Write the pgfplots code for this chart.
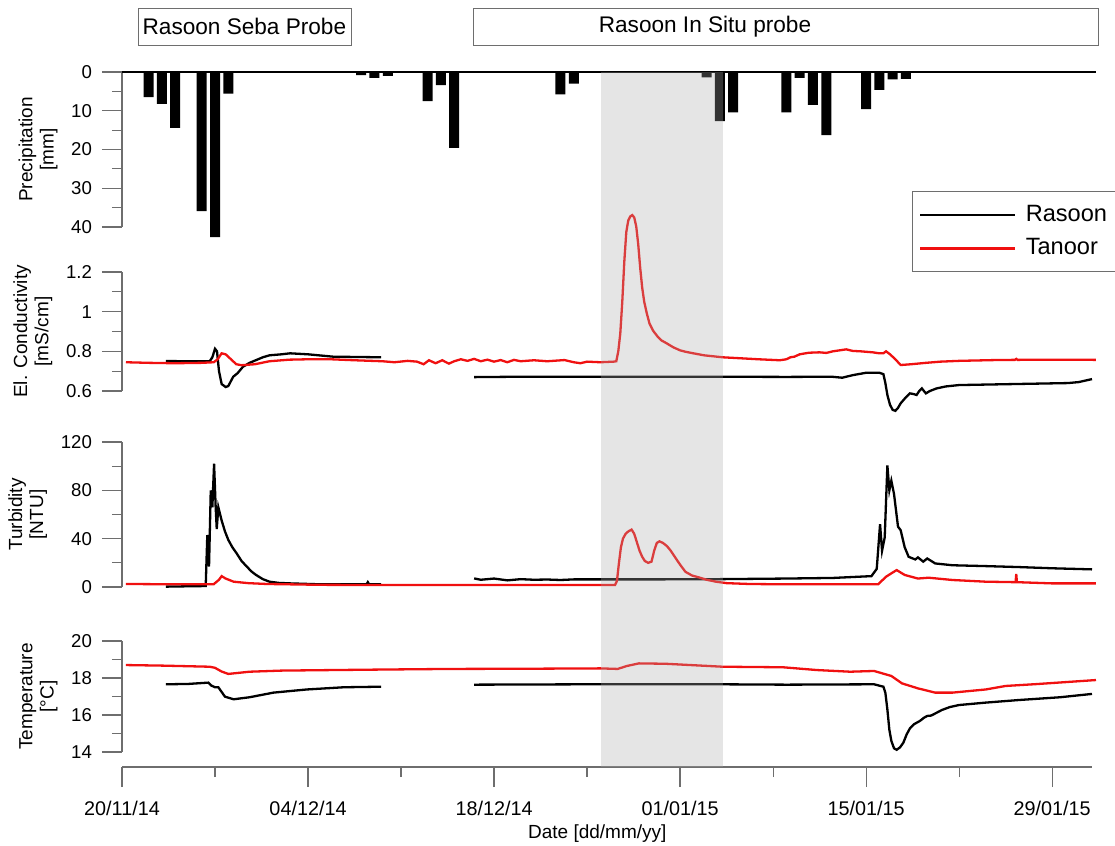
\documentclass[border=0pt]{standalone}
\usepackage{pgfplots}
\pgfplotsset{compat=1.18}
\usepackage{fontspec}
\setmainfont{Liberation Sans}
\definecolor{axgray}{HTML}{6E6E6E}
\definecolor{shadec}{HTML}{AAAAAA}
\definecolor{tanoor}{HTML}{F01010}

\pgfplotsset{
  panel/.style={
    scale only axis, width=485pt, xmin=0, xmax=73, clip=false,
    axis x line=none, axis y line*=left,
    tick align=outside,
    major tick length=10pt, minor tick length=5pt,
    every tick/.style={axgray, line width=0.6pt},
    axis line style={axgray, line width=0.6pt},
    /pgf/number format/assume math mode=true,
    tick label style={font=\fontsize{9.3}{11}\selectfont},
    yticklabel shift=1.5pt,
    ylabel style={font=\fontsize{9.5}{10.6}\selectfont, align=center},
    minor y tick num=1,
  },
  rl/.style={black, line width=1.15pt},
  tl/.style={tanoor, line width=1.15pt},
}

\begin{document}
\begin{tikzpicture}
\path[use as bounding box] (0pt,0pt) rectangle (557.5pt,-423pt);

% top labels
\node[draw=axgray, line width=0.5pt, minimum width=106.5pt, minimum height=18.5pt, inner sep=0pt, anchor=north west] at (69pt,-4pt) {};
\node[font=\fontsize{11.3}{13}\selectfont] at (122.2pt,-13.2pt) {Rasoon Seba Probe};
\node[draw=axgray, line width=0.5pt, minimum width=312.5pt, minimum height=18.5pt, inner sep=0pt, anchor=north west] at (236.5pt,-4pt) {};
\node[font=\fontsize{11.3}{13}\selectfont] at (352.5pt,-13.2pt) {Rasoon In Situ probe};

% Precipitation
\begin{axis}[panel, at={(61pt,-36pt)}, anchor=north west, height=77.5pt,
  y dir=reverse, ymin=0, ymax=40, ytick={0,10,20,30,40},
  ylabel={Precipitation\\{[mm]}}]
\addplot[black, line width=1.1pt] coordinates {(0,0) (73.3,0)};
\addplot[ybar, bar width=5pt, fill=black, draw=none] coordinates {
(2,6.5) (3,8.2) (4,14.4) (6,35.9) (7,42.6) (8,5.6) (18,0.8) (19,1.5) (20,1.0)
(23,7.5) (24,3.4) (25,19.6) (33,5.8) (34,3.0) (44,1.4) (45,12.7) (46,10.4)
(50,10.4) (51,1.5) (52,8.5) (53,16.3) (56,9.6) (57,4.6) (58,1.9) (59,1.8)};
\end{axis}

% EC
\begin{axis}[panel, at={(61pt,-195.5pt)}, anchor=south west, height=59.5pt,
  ymin=0.6, ymax=1.2, ytick={0.6,0.8,1,1.2},
  ylabel={El. Conductivity\\{[mS/cm]}},
  legend style={at={(0.8144,1.6807)}, anchor=north west, draw=axgray, line width=0.5pt,
    font=\fontsize{11.8}{13}\selectfont, inner xsep=3.3pt, inner ysep=5.5pt,
    nodes={inner sep=1.5pt}, row sep=4pt, column sep=3.2pt},
  legend cell align=left,
  legend image code/.code={\draw[#1] (0pt,0pt) -- (47.5pt,0pt);}]
\addplot[rl] coordinates {(3.3,0.751)(5,0.750)(6.6,0.750)(6.8,0.77)(7.0,0.813)(7.15,0.80)(7.3,0.70)(7.5,0.635)(7.8,0.62)(8.0,0.625)(8.37,0.672)(8.7,0.69)(9.1,0.722)(9.6,0.742)(10.1,0.756)(10.6,0.77)(11.1,0.78)(12.0,0.785)(12.65,0.79)(14,0.785)(15.9,0.773)(19.5,0.77)};
\addlegendentry{Rasoon}
\addplot[rl, forget plot] coordinates {(26.5,0.670)(30,0.672)(35,0.672)(40,0.672)(45,0.672)(50,0.671)(53.4,0.672)(54.2,0.667)(55,0.68)(56,0.692)(57,0.692)(57.3,0.685)(57.45,0.64)(57.6,0.58)(57.8,0.53)(58.0,0.505)(58.2,0.50)(58.4,0.515)(58.6,0.538)(58.95,0.565)(59.3,0.588)(59.55,0.585)(59.8,0.58)(60.0,0.60)(60.2,0.613)(60.35,0.60)(60.5,0.588)(60.8,0.60)(61.3,0.613)(62,0.623)(63,0.63)(67.1,0.635)(71.2,0.64)(72.0,0.645)(73,0.66)};
\addplot[tl] coordinates {(0.3,0.745)(2,0.742)(4,0.740)(6,0.742)(6.9,0.745)(7.2,0.76)(7.5,0.79)(7.8,0.785)(8.2,0.76)(8.6,0.735)(9.0,0.73)(10.0,0.735)(11.1,0.75)(12.6,0.758)(14,0.76)(15.7,0.76)(17.5,0.755)(19.6,0.75)(20.5,0.745)(21.5,0.752)(22.2,0.748)(22.7,0.735)(23.1,0.755)(23.6,0.74)(24.1,0.755)(24.6,0.738)(25.0,0.75)(25.5,0.76)(26.0,0.752)(26.5,0.762)(27.0,0.75)(27.5,0.758)(28.0,0.748)(28.5,0.756)(29.0,0.745)(29.5,0.757)(30.0,0.75)(31,0.755)(32,0.75)(33.3,0.756)(34.0,0.745)(34.5,0.74)(35.0,0.748)(36.0,0.745)(37.0,0.748)(37.2,0.75)(37.35,0.80)(37.5,0.89)(37.65,1.05)(37.8,1.25)(37.95,1.40)(38.1,1.46)(38.25,1.48)(38.4,1.487)(38.55,1.475)(38.7,1.43)(38.85,1.34)(39.0,1.22)(39.15,1.12)(39.3,1.05)(39.5,0.99)(39.7,0.94)(39.96,0.905)(40.3,0.875)(40.6,0.855)(41.0,0.84)(41.5,0.82)(42.0,0.805)(42.4,0.798)(43,0.79)(43.8,0.78)(45.2,0.77)(47.9,0.76)(49.5,0.755)(50.0,0.76)(50.3,0.77)(50.6,0.773)(51,0.785)(51.7,0.793)(52.5,0.795)(53.0,0.792)(53.5,0.80)(54.0,0.805)(54.5,0.81)(55.0,0.802)(55.6,0.80)(56.5,0.795)(57.0,0.79)(57.3,0.79)(57.5,0.80)(57.8,0.785)(58.2,0.76)(58.6,0.731)(59.4,0.735)(60.5,0.742)(61.6,0.748)(63,0.752)(65.7,0.756)(67.2,0.757)(67.3,0.762)(67.4,0.757)(70,0.758)(73.3,0.757)};
\addlegendentry{Tanoor}
\end{axis}

% Turbidity
\begin{axis}[panel, at={(61pt,-293.5pt)}, anchor=south west, height=72.5pt,
  ymin=0, ymax=120, ytick={0,40,80,120},
  ylabel={Turbidity\\{[NTU]}}]
\addplot[rl] coordinates {(3.3,0.3)(5,0.6)(6.3,0.8)(6.42,43)(6.55,17)(6.68,80)(6.8,66)(6.93,102)(7.05,66)(7.13,48)(7.25,66)(7.5,55)(7.75,46)(8.0,39)(8.3,33)(8.63,27.8)(9.0,21.5)(9.4,16.8)(9.75,12.8)(10.1,9.9)(10.6,6.5)(11.1,4.4)(11.8,3.4)(12.65,3)(15,2.2)(18.4,2.2)(18.5,4)(18.6,2.2)(19.5,2.2)};
\addplot[rl] coordinates {(26.5,7.1)(27,6)(28,7)(29,5.5)(30,6.5)(31,6)(32,6.2)(33,5.8)(34,6.3)(36,6.3)(40,6.3)(45,6.5)(50,7)(53.5,7.5)(56.4,9)(56.8,15)(57.05,52)(57.2,30)(57.4,41)(57.6,100.6)(57.75,80)(57.9,88)(58.1,77)(58.4,50)(58.6,47)(58.9,33)(59.2,25)(59.7,22.8)(59.9,24.5)(60.3,21)(60.6,23.6)(61.2,19.5)(62.5,18)(65,17.3)(67.5,16.5)(70,15.5)(73,14.6)};
\addplot[tl] coordinates {(0.3,2.5)(3,2.3)(6.9,2.3)(7.3,6)(7.5,9)(7.8,7)(8.4,4.4)(9.5,3.2)(10.9,2.5)(15,1.8)(20,1.6)(30,1.6)(37.1,1.6)(37.25,5)(37.4,20)(37.55,33)(37.7,40)(37.9,44)(38.1,46)(38.35,47.5)(38.55,44)(38.75,37)(38.95,30)(39.15,25)(39.35,21.5)(39.6,20)(39.85,21)(40.05,30)(40.25,36.5)(40.45,37.8)(40.7,36.5)(41.0,34)(41.3,30)(41.6,25)(42.0,18.5)(42.4,12.6)(42.9,9.5)(43.4,8)(44.0,6)(44.7,4.4)(45.5,3.2)(47.2,2.5)(50,2.2)(56.9,2.2)(57.5,8.5)(58.0,12)(58.3,14)(58.9,10)(59.9,7)(60.7,7.7)(62.5,5.8)(65,4.4)(67.25,4)(67.3,10.7)(67.35,4)(70,3)(73.3,3)};
\end{axis}

% Temperature
\begin{axis}[panel, at={(61pt,-376pt)}, anchor=south west, height=55.5pt,
  ymin=14, ymax=20, ytick={14,16,18,20},
  ylabel={Temperature\\{[°C]}}]
\addplot[rl] coordinates {(3.3,17.66)(5,17.68)(6.5,17.75)(6.7,17.6)(7.0,17.5)(7.25,17.5)(7.75,16.99)(8.4,16.85)(9.6,16.96)(11.4,17.21)(13.9,17.38)(16.7,17.5)(19.5,17.53)};
\addplot[rl] coordinates {(26.5,17.64)(35,17.66)(45,17.66)(50,17.64)(56.6,17.66)(57.3,17.53)(57.45,17.2)(57.6,16.3)(57.75,15.2)(57.9,14.6)(58.1,14.2)(58.3,14.12)(58.55,14.25)(58.8,14.5)(59.05,14.95)(59.3,15.28)(59.6,15.5)(60.05,15.68)(60.35,15.85)(60.6,15.95)(60.9,15.97)(61.3,16.12)(61.7,16.27)(62.3,16.43)(63,16.54)(65,16.67)(67.5,16.81)(70.6,16.96)(73,17.14)};
\addplot[tl] coordinates {(0.3,18.70)(3,18.67)(6.6,18.61)(7.0,18.55)(7.5,18.35)(8.0,18.22)(9.6,18.34)(12,18.40)(15.9,18.43)(20,18.46)(24.7,18.49)(30,18.50)(36,18.52)(37.3,18.49)(38.0,18.65)(38.9,18.79)(40.9,18.77)(45.2,18.61)(49.75,18.58)(52.3,18.43)(54.8,18.34)(56.6,18.38)(57.9,18.11)(58.7,17.71)(59.9,17.44)(61.2,17.21)(62.5,17.21)(65,17.38)(66.5,17.57)(68.8,17.67)(73.3,17.89)};
\end{axis}

% Date axis and shading
\begin{axis}[scale only axis, width=485pt, height=347.5pt, at={(61pt,-383.5pt)}, anchor=south west,
  xmin=0, xmax=73, ymin=0, ymax=1, clip=false,
  axis y line=none, axis x line*=bottom,
  tick align=outside, major tick length=10pt, minor tick length=5pt,
  every tick/.style={axgray, line width=0.6pt},
  axis line style={axgray, line width=0.6pt},
  xtick={0,14,28,42,56,70}, minor x tick num=1,
  xticklabels={20/11/14,04/12/14,18/12/14,01/01/15,15/01/15,29/01/15},
  xticklabel style={font=\fontsize{9.9}{11}\selectfont},
  xticklabel shift=3.5pt,
  xlabel={Date [dd/mm/yy]},
  xlabel style={font=\fontsize{9.5}{11}\selectfont, at={(ticklabel cs:0.49)}, yshift=2.5pt}]
\addplot[fill=shadec, draw=none, opacity=0.3] coordinates {(36.05,1) (45.23,1)} \closedcycle;
\end{axis}
\end{tikzpicture}
\end{document}
